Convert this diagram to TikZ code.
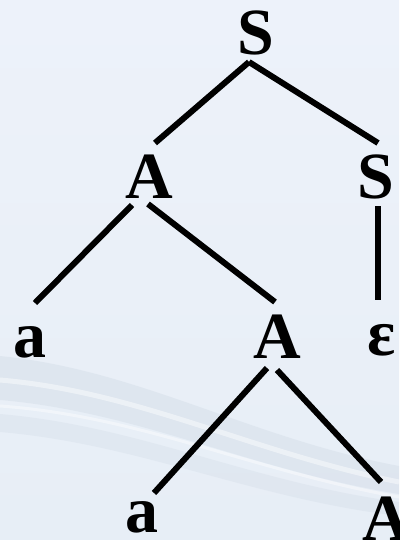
\documentclass[tikz,border=0pt]{standalone}
\usepackage{fontspec}
\setmainfont{Liberation Serif}
\begin{document}
\begin{tikzpicture}[x=1pt,y=-1pt,
  sym/.style={inner sep=0pt,anchor=base,text depth=0pt,font=\fontsize{66}{72}\selectfont\bfseries},
  edge/.style={line width=6pt,black}]
\definecolor{bgtop}{HTML}{EDF2FA}
\definecolor{bgbot}{HTML}{E7EEF6}
\definecolor{swdark}{HTML}{D5DEE9}
\useasboundingbox (0,0) rectangle (399,540);
\shade[top color=bgtop,bottom color=bgbot] (0,0) rectangle (399,540);
% background swoosh
\fill[swdark,opacity=0.5] (0,356) .. controls (140,370) and (250,438) .. (399,466)
   -- (399,494) .. controls (250,470) and (140,412) .. (0,400) -- cycle;
\draw[white,line width=5pt,opacity=0.45] (0,380) .. controls (140,392) and (250,452) .. (399,482);
\fill[swdark,opacity=0.4] (0,414) .. controls (140,426) and (250,482) .. (399,502)
   -- (399,516) .. controls (250,498) and (140,444) .. (0,432) -- cycle;
\draw[white,line width=3pt,opacity=0.4] (0,406) .. controls (140,416) and (250,470) .. (399,497);
% nodes
\node[sym] (S0) at (256,55) {S};
\node[sym] (A1) at (149,198) {A};
\node[sym] (S2) at (376,198) {S};
\node[sym] (a3) at (30,357) {a};
\node[sym] (A4) at (277,358) {A};
\node[sym] (e5) at (382,355) {ε};
\node[sym] (a6) at (142,532) {a};
\node[sym] (A7) at (386,540) {A};
% edges
\draw[edge] ([shift={(-7,7)}]S0.base) -- ([shift={(6,-55)}]A1.base);
\draw[edge] ([shift={(-7,7)}]S0.base) -- ([shift={(2,-55)}]S2.base);
\draw[edge] ([shift={(-17,7)}]A1.base) -- ([shift={(5,-54)}]a3.base);
\draw[edge] ([shift={(-1,6)}]A1.base) -- ([shift={(-2,-56)}]A4.base);
\draw[edge] ([shift={(2,8)}]S2.base) -- ([shift={(-4,-55)}]e5.base);
\draw[edge] ([shift={(-10,10)}]A4.base) -- ([shift={(12,-39)}]a6.base);
\draw[edge] ([shift={(0,12)}]A4.base) -- ([shift={(-5,-58)}]A7.base);
\end{tikzpicture}
\end{document}
